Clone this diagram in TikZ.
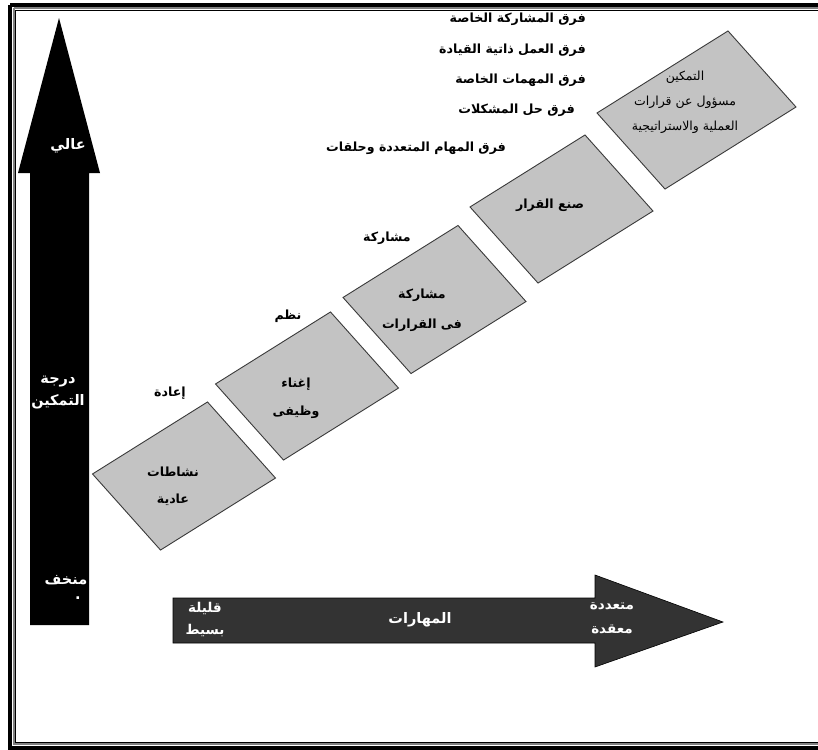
\documentclass[tikz,border=0pt]{standalone}
\usepackage{fontspec}
\newfontfamily\arfont[Script=Arabic]{DejaVu Sans}
\TeXXeTstate=1
\newcommand\ar[1]{\beginR #1\endR}
\definecolor{boxgray}{HTML}{C3C3C3}
\definecolor{edgegray}{HTML}{3A3A3A}
\definecolor{axisgray}{HTML}{333333}
\tikzset{
  lbl/.style={font=\arfont\bfseries\fontsize{12.6}{16}\selectfont, inner sep=0pt, align=center},
  wlbl/.style={font=\arfont\bfseries\fontsize{14.5}{18}\selectfont, inner sep=0pt, align=center, text=white},
  boxline/.style={draw=edgegray, line width=0.9pt, fill=boxgray},
  stepbox/.pic={\path[boxline, yscale=0.837, rotate=36.8] (-71.8,-56.75) rectangle (71.8,56.75);},
  widebox/.pic={\path[boxline, yscale=0.837, rotate=36.8] (-81.8,-56.75) rectangle (81.8,56.75);}
}
\begin{document}
\begin{tikzpicture}[x=1pt,y=-1pt]
\useasboundingbox (0,0) rectangle (818,749);
\fill[white] (0,0) rectangle (818,749);

% page frame: thick outer rule, grey band, thin inner rule
\draw[line width=4pt] (10,5.5) -- (830,5.5) (10,5.5) -- (10,747.5) -- (830,747.5);
\draw[gray, line width=2pt] (13.5,8.5) -- (830,8.5) (13.5,8.5) -- (13.5,744) -- (830,744);
\draw[line width=0.9pt] (15.5,10.5) -- (830,10.5) (15.5,10.5) -- (15.5,742) -- (830,742);

% vertical axis: degree of empowerment
\fill[black] (59,18) -- (100,173) -- (89,173) -- (89,625) -- (30,625) -- (30,173) -- (18,173) -- cycle;
\node[wlbl] (high) at (68,146) {\ar{عالي}};
\node[wlbl, font=\arfont\bfseries\fontsize{14.5}{22}\selectfont] (degree) at (58,393) {\ar{درجة}\\\ar{التمكين}};
\node[wlbl] (low) at (66,580) {\ar{منخف}};
\node[wlbl] (lowdot) at (78,598) {.};

% horizontal axis: skills
\fill[axisgray, draw=black, line width=0.6pt] (173,598) -- (595,598) -- (595,575) -- (723,622) -- (595,667) -- (595,643) -- (173,643) -- cycle;
\node[wlbl, font=\arfont\bfseries\fontsize{13.5}{22}\selectfont] (few) at (205,620) {\ar{قليلة}\\\ar{بسيط}};
\node[wlbl] (skills) at (420,620) {\ar{المهارات}};
\node[wlbl, font=\arfont\bfseries\fontsize{13.5}{24}\selectfont] (many) at (612,618) {\ar{متعددة}\\\ar{معقدة}};

% the five steps
\pic at (184,476) {stepbox};
\pic at (307,386) {stepbox};
\pic at (434.5,299.5) {stepbox};
\pic at (561.5,209) {stepbox};
\pic at (696.5,110) {widebox};

\node[lbl, font=\arfont\bfseries\fontsize{12.6}{27}\selectfont] (s1) at (173,486) {\ar{نشاطات}\\\ar{عادية}};
\node[lbl, font=\arfont\bfseries\fontsize{12.6}{28}\selectfont] (s2) at (296,398) {\ar{إغناء}\\\ar{وظيفى}};
\node[lbl, font=\arfont\bfseries\fontsize{12.6}{30}\selectfont] (s3) at (422,310) {\ar{مشاركة}\\\ar{فى القرارات}};
\node[lbl] (s4) at (550,205) {\ar{صنع القرار}};
\node[lbl, font=\arfont\fontsize{12.5}{25}\selectfont] (s5) at (685,102) {\ar{التمكين}\\\ar{مسؤول عن قرارات}\\\ar{العملية والاستراتيجية}};

% labels above the steps
\node[lbl] (t1) at (170,393) {\ar{إعادة}};
\node[lbl] (t2) at (288,316) {\ar{نظم}};
\node[lbl] (t3) at (387,238) {\ar{مشاركة}};

% kinds of teams
\node[lbl, anchor=east] (k1) at (586,19) {\ar{فرق المشاركة الخاصة}};
\node[lbl, anchor=east] (k2) at (586,50) {\ar{فرق العمل ذاتية القيادة}};
\node[lbl, anchor=east] (k3) at (586,80) {\ar{فرق المهمات الخاصة}};
\node[lbl, anchor=east] (k4) at (575,110) {\ar{فرق حل المشكلات}};
\node[lbl] (k5) at (416,148) {\ar{فرق المهام المتعددة وحلقات}};
\end{tikzpicture}
\end{document}
